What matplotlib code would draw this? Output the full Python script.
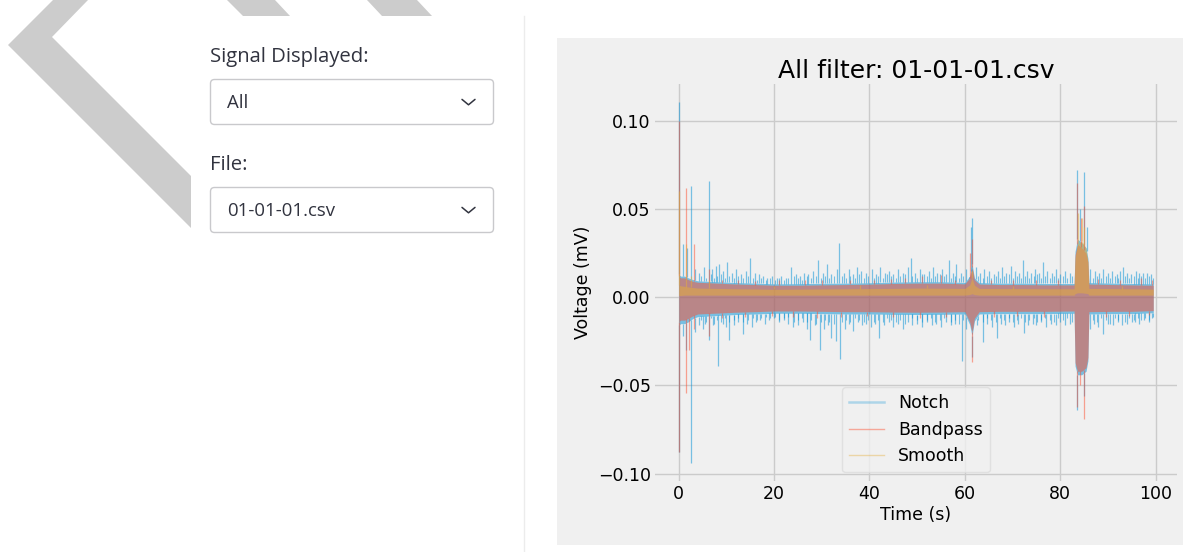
#!/usr/bin/env python3
"""Streamlit-style page: sidebar selects + EMG filter overlay (Notch / Bandpass / Smooth)."""

import matplotlib.pyplot as plt
import numpy as np
from matplotlib.lines import Line2D
from matplotlib.patches import FancyBboxPatch, Polygon, Rectangle

W, H = 1183, 552

SIGNAL_LABEL = "Signal Displayed:"
SIGNAL_VALUE = "All"
FILE_LABEL = "File:"
FILE_VALUE = "01-01-01.csv"

SERIES = ["Notch", "Bandpass", "Smooth"]
COLORS = ["#008fd5", "#fc4f30", "#e5ae38"]  # fivethirtyeight cycle

# envelope of the dense band (s, mV)
ENV_T = [0.0, 0.4, 1.2, 2.0, 3.0, 4.0, 8.0, 12.0, 16.0, 20.0, 25.0, 30.0,
         35.0, 40.0, 45.0, 50.0, 55.0, 60.0, 61.0, 61.5, 62.0, 63.0, 67.0,
         72.0, 77.0, 82.9, 83.1, 83.6, 84.5, 85.4, 85.8, 86.0, 91.0, 95.0, 99.5]

NOTCH_HI = [0.013, 0.012, 0.012, 0.011, 0.010, 0.0093, 0.0088, 0.0083, 0.0080,
            0.0076, 0.0077, 0.0079, 0.0080, 0.0082, 0.0086, 0.0088, 0.0088,
            0.0084, 0.0120, 0.0190, 0.0110, 0.0083, 0.0080, 0.0080, 0.0078,
            0.0078, 0.0260, 0.0330, 0.0310, 0.0280, 0.0220, 0.0083, 0.0080,
            0.0078, 0.0076]
NOTCH_LO = [-0.016, -0.015, -0.015, -0.014, -0.012, -0.011, -0.0104, -0.0098,
            -0.0095, -0.0091, -0.0091, -0.0093, -0.0095, -0.0095, -0.0097,
            -0.0098, -0.0097, -0.0095, -0.0155, -0.0220, -0.0135, -0.0095,
            -0.0093, -0.0093, -0.0093, -0.0091, -0.0390, -0.0440, -0.0440,
            -0.0420, -0.0360, -0.0095, -0.0093, -0.0093, -0.0088]

BANDPASS_HI = [0.012, 0.011, 0.011, 0.010, 0.009, 0.0085, 0.0080, 0.0075,
               0.0072, 0.0068, 0.0068, 0.0070, 0.0072, 0.0074, 0.0078, 0.0080,
               0.0080, 0.0076, 0.0110, 0.0170, 0.0100, 0.0075, 0.0072, 0.0072,
               0.0070, 0.0070, 0.0240, 0.0300, 0.0280, 0.0250, 0.0200, 0.0075,
               0.0072, 0.0070, 0.0068]
BANDPASS_LO = [-0.014, -0.013, -0.013, -0.012, -0.0105, -0.0095, -0.0090,
               -0.0085, -0.0082, -0.0078, -0.0078, -0.0080, -0.0082, -0.0082,
               -0.0084, -0.0085, -0.0084, -0.0082, -0.0140, -0.0200, -0.0120,
               -0.0082, -0.0080, -0.0080, -0.0080, -0.0078, -0.0370, -0.0420,
               -0.0420, -0.0400, -0.0340, -0.0082, -0.0080, -0.0080, -0.0076]

SMOOTH_HI = [0.0070, 0.0065, 0.0062, 0.0058, 0.0055, 0.0052, 0.0050, 0.0048,
             0.0047, 0.0045, 0.0046, 0.0047, 0.0048, 0.0049, 0.0050, 0.0052,
             0.0051, 0.0050, 0.0070, 0.0110, 0.0068, 0.0050, 0.0049, 0.0049,
             0.0048, 0.0048, 0.0220, 0.0300, 0.0320, 0.0280, 0.0200, 0.0050,
             0.0049, 0.0048, 0.0046]
SMOOTH_LO = [0.0010, 0.0010, 0.0012, 0.0012, 0.0012, 0.0012, 0.0012, 0.0012,
             0.0012, 0.0012, 0.0012, 0.0012, 0.0012, 0.0012, 0.0012, 0.0012,
             0.0012, 0.0012, 0.0015, 0.0020, 0.0015, 0.0012, 0.0012, 0.0012,
             0.0012, 0.0012, 0.0020, 0.0025, 0.0025, 0.0022, 0.0020, 0.0012,
             0.0012, 0.0012, 0.0012]

# individual spikes sticking out of the band (s, mV)
NOTCH_SPIKE_T = [
    0.0, 1.0, 1.8, 2.6, 3.5, 4.3, 5.2, 6.4, 7.0, 7.8, 8.5, 9.3, 10.1, 11.2,
    12.0, 13.0, 14.1, 15.0, 15.9, 16.8, 17.7, 18.6, 19.5, 20.6, 21.5, 22.4,
    23.6, 24.5, 25.4, 26.3, 27.2, 28.1, 29.3, 30.2, 31.0, 32.0, 33.2, 33.6,
    34.7, 35.6, 36.5, 37.4, 38.3, 39.2, 40.5, 41.4, 42.3, 43.2, 44.1, 45.0,
    46.0, 47.0, 48.0, 48.6, 49.5, 50.5, 51.5, 52.4, 53.3, 54.2, 55.2, 56.0,
    56.7, 57.5, 58.2, 59.2, 60.3, 61.2, 61.5, 62.3, 63.2, 64.1, 65.0, 66.0,
    66.9, 67.8, 68.7, 69.6, 70.5, 71.3, 72.1, 73.0, 73.9, 74.8, 75.6, 76.4,
    77.3, 78.2, 79.0, 80.0, 81.0, 82.0, 83.6, 84.2, 84.9, 85.5, 86.3, 87.2,
    88.1, 89.0, 90.0, 90.9, 91.8, 92.6, 93.1, 94.0, 94.9, 95.8, 96.6, 97.3,
    98.2, 99.0,
    0.0, 0.8, 1.5, 2.6, 3.4, 4.2, 5.0, 5.6, 6.4, 7.2, 8.3, 9.2, 10.0, 10.6,
    11.5, 12.4, 13.4, 14.3, 15.3, 16.2, 17.1, 18.0, 19.0, 20.0, 21.0, 22.0,
    23.0, 24.0, 25.0, 26.0, 26.8, 27.6, 28.5, 29.7, 30.5, 31.3, 32.0, 33.0,
    33.9, 34.8, 35.7, 36.6, 37.5, 38.4, 39.3, 40.3, 41.2, 42.0, 43.0, 44.0,
    45.0, 46.0, 47.0, 48.0, 49.0, 50.0, 51.0, 52.0, 53.0, 54.0, 55.0, 56.0,
    57.0, 58.0, 59.4, 60.3, 61.5, 62.5, 63.7, 64.6, 65.6, 66.7, 67.5, 68.4,
    69.3, 70.2, 71.2, 72.4, 73.3, 74.2, 75.0, 76.0, 77.0, 78.0, 79.0, 80.0,
    81.0, 82.0, 83.6, 84.9, 86.2, 87.0, 88.0, 89.0, 90.0, 91.0, 92.0, 93.0,
    94.0, 95.0, 95.7, 96.6, 97.5, 98.5, 99.3,
]
NOTCH_SPIKE_V = [
    0.111, 0.030, 0.028, 0.063, 0.016, 0.014, 0.017, 0.066, 0.016, 0.018,
    0.019, 0.015, 0.020, 0.014, 0.016, 0.013, 0.015, 0.022, 0.014, 0.013,
    0.012, 0.011, 0.012, 0.011, 0.012, 0.011, 0.017, 0.013, 0.012, 0.014,
    0.013, 0.015, 0.021, 0.014, 0.019, 0.013, 0.016, 0.031, 0.014, 0.016,
    0.013, 0.017, 0.015, 0.014, 0.016, 0.013, 0.017, 0.014, 0.015, 0.013,
    0.016, 0.014, 0.017, 0.022, 0.014, 0.016, 0.013, 0.015, 0.017, 0.014,
    0.016, 0.013, 0.021, 0.014, 0.019, 0.014, 0.016, 0.040, 0.045, 0.017,
    0.014, 0.016, 0.015, 0.013, 0.015, 0.017, 0.014, 0.0175, 0.015, 0.014,
    0.021, 0.015, 0.014, 0.016, 0.014, 0.020, 0.015, 0.014, 0.016, 0.013,
    0.015, 0.014, 0.072, 0.050, 0.071, 0.040, 0.016, 0.015, 0.014, 0.016,
    0.014, 0.015, 0.013, 0.015, 0.017, 0.014, 0.013, 0.015, 0.014, 0.0135,
    0.014, 0.013,
    -0.088, -0.022, -0.030, -0.094, -0.020, -0.016, -0.018, -0.015, -0.024,
    -0.016, -0.039, -0.015, -0.017, -0.024, -0.016, -0.014, -0.021, -0.015,
    -0.017, -0.014, -0.013, -0.015, -0.013, -0.012, -0.014, -0.013, -0.015,
    -0.017, -0.016, -0.014, -0.018, -0.024, -0.016, -0.030, -0.018, -0.016,
    -0.023, -0.025, -0.035, -0.018, -0.015, -0.019, -0.014, -0.016, -0.015,
    -0.017, -0.015, -0.023, -0.016, -0.014, -0.017, -0.015, -0.018, -0.014,
    -0.016, -0.015, -0.017, -0.014, -0.016, -0.015, -0.017, -0.014, -0.016,
    -0.015, -0.036, -0.018, -0.034, -0.016, -0.0255, -0.015, -0.017, -0.023,
    -0.015, -0.016, -0.014, -0.017, -0.015, -0.0203, -0.016, -0.015, -0.016,
    -0.014, -0.017, -0.015, -0.016, -0.014, -0.016, -0.015, -0.064, -0.056,
    -0.018, -0.015, -0.017, -0.0207, -0.015, -0.016, -0.014, -0.016, -0.015,
    -0.014, -0.014, -0.015, -0.013, -0.014, -0.012,
]

# short grass between the bigger spikes (s, mV up, mV down)
GRASS_T = [
    4.7, 5.7, 6.8, 7.4, 8.1, 8.9, 9.7, 10.6, 11.6, 12.5, 13.5, 14.6, 15.5,
    16.4, 17.2, 18.2, 19.1, 20.1, 21.0, 22.0, 22.9, 24.1, 25.0, 25.9, 26.8,
    27.7, 28.7, 29.8, 30.6, 31.5, 32.5, 34.2, 35.1, 36.0, 37.0, 37.9, 38.8,
    39.7, 40.9, 41.8, 42.8, 43.7, 44.6, 45.5, 46.5, 47.5, 49.0, 50.0, 51.0,
    52.0, 52.9, 53.8, 54.7, 55.6, 57.1, 57.9, 58.7, 59.7, 60.8, 62.7, 63.7,
    64.6, 65.5, 66.5, 67.4, 68.3, 69.2, 70.1, 70.9, 71.7, 72.6, 73.5, 74.4,
    75.2, 76.0, 76.9, 77.8, 78.6, 79.5, 80.5, 81.5, 82.4, 86.8, 87.7, 88.6,
    89.5, 90.5, 91.4, 92.2, 93.6, 94.5, 95.4, 96.2, 97.0, 97.8, 98.6, 99.4,
]
GRASS_UP = [
    0.012, 0.011, 0.013, 0.011, 0.012, 0.013, 0.011, 0.012, 0.011, 0.012,
    0.011, 0.012, 0.011, 0.010, 0.011, 0.010, 0.011, 0.010, 0.011, 0.010,
    0.011, 0.012, 0.011, 0.010, 0.012, 0.011, 0.012, 0.011, 0.012, 0.011,
    0.012, 0.012, 0.011, 0.012, 0.011, 0.013, 0.011, 0.012, 0.011, 0.012,
    0.011, 0.013, 0.012, 0.011, 0.012, 0.013, 0.012, 0.011, 0.013, 0.012,
    0.011, 0.012, 0.013, 0.012, 0.011, 0.012, 0.011, 0.012, 0.011, 0.012,
    0.011, 0.012, 0.011, 0.012, 0.011, 0.012, 0.013, 0.011, 0.012, 0.011,
    0.012, 0.011, 0.012, 0.013, 0.011, 0.012, 0.011, 0.012, 0.011, 0.012,
    0.011, 0.012, 0.011, 0.012, 0.011, 0.012, 0.011, 0.012, 0.011, 0.012,
    0.011, 0.012, 0.011, 0.012, 0.011, 0.012, 0.011,
]
GRASS_DN = [
    -0.013, -0.014, -0.012, -0.015, -0.013, -0.014, -0.012, -0.014, -0.013,
    -0.012, -0.014, -0.013, -0.012, -0.013, -0.012, -0.011, -0.012, -0.011,
    -0.013, -0.012, -0.011, -0.014, -0.013, -0.012, -0.014, -0.013, -0.015,
    -0.014, -0.013, -0.014, -0.015, -0.014, -0.013, -0.014, -0.012, -0.013,
    -0.014, -0.013, -0.014, -0.013, -0.014, -0.012, -0.013, -0.014, -0.013,
    -0.015, -0.012, -0.013, -0.014, -0.013, -0.012, -0.014, -0.013, -0.012,
    -0.014, -0.013, -0.015, -0.013, -0.014, -0.013, -0.014, -0.012, -0.013,
    -0.014, -0.012, -0.013, -0.012, -0.014, -0.013, -0.012, -0.014, -0.013,
    -0.012, -0.014, -0.013, -0.012, -0.013, -0.014, -0.012, -0.013, -0.012,
    -0.014, -0.013, -0.014, -0.012, -0.013, -0.015, -0.012, -0.013, -0.014,
    -0.012, -0.013, -0.012, -0.013, -0.012, -0.013, -0.011,
]

BANDPASS_SPIKE_T = [
    0.0, 1.5, 3.1, 6.4, 9.0, 12.5, 16.0, 21.0, 26.5, 30.0, 36.0, 41.0, 44.5,
    47.5, 51.0, 55.0, 58.0, 61.0, 61.5, 65.5, 70.0, 75.0, 79.5, 83.6, 84.3,
    84.9, 88.0, 92.5, 97.0, 99.3,
    0.0, 1.5, 2.2, 3.3, 6.4, 9.0, 14.0, 19.5, 24.0, 29.0, 34.0, 39.5, 45.0,
    50.5, 56.0, 61.5, 66.0, 71.0, 76.5, 83.6, 84.2, 84.9, 89.5, 94.5, 98.5,
]
BANDPASS_SPIKE_V = [
    0.100, 0.062, 0.030, 0.016, 0.010, 0.0095, 0.009, 0.0095, 0.010, 0.0098,
    0.0095, 0.010, 0.0105, 0.011, 0.012, 0.0125, 0.010, 0.025, 0.033, 0.010,
    0.0095, 0.010, 0.0098, 0.0646, 0.045, 0.052, 0.0105, 0.0095, 0.011, 0.010,
    -0.088, -0.0546, -0.030, -0.018, -0.022, -0.012, -0.011, -0.0105, -0.011,
    -0.012, -0.011, -0.0105, -0.011, -0.0115, -0.011, -0.037, -0.011, -0.0105,
    -0.011, -0.062, -0.050, -0.069, -0.011, -0.0105, -0.010,
]

SMOOTH_SPIKE_T = [0.0, 1.5, 2.6, 6.4, 20.0, 38.0, 52.0, 61.5, 70.0, 83.8, 84.5,
                  85.0, 93.0]
SMOOTH_SPIKE_V = [0.060, 0.030, 0.012, 0.010, 0.0065, 0.0068, 0.0072, 0.015,
                  0.0066, 0.048, 0.045, 0.040, 0.0065]

TEXT = "#31333F"


def draw_series(ax, color, hi, lo, spike_t, spike_v, lw=0.9):
    t_env = np.asarray(ENV_T)
    ax.fill_between(t_env, lo, hi, color=color, alpha=0.5, lw=0)
    t = np.asarray(spike_t)
    v = np.asarray(spike_v)
    # spike starts at the band edge so it does not double the band's alpha
    base = np.where(v > 0, np.interp(t, t_env, hi), np.interp(t, t_env, lo))
    ax.vlines(t, base, v, color=color, lw=lw, alpha=0.5)


def draw_grass(ax, color):
    t_env = np.asarray(ENV_T)
    t = np.asarray(GRASS_T)
    ax.vlines(t, np.interp(t, t_env, NOTCH_HI), GRASS_UP, color=color,
              lw=0.8, alpha=0.5)
    ax.vlines(t, np.interp(t, t_env, NOTCH_LO), GRASS_DN, color=color,
              lw=0.8, alpha=0.5)


def draw_page(fig):
    page = fig.add_axes([0, 0, 1, 1], zorder=0)
    page.set_xlim(0, W)
    page.set_ylim(H, 0)
    page.axis("off")

    grey = "#cccccc"
    page.add_patch(Polygon([(8, 45), (53, 0), (88, 0), (52, 37), (191, 176),
                            (191, 228)], closed=True, color=grey, lw=0))
    page.add_patch(Polygon([(227, 0), (275, 0), (290, 16), (243, 16)],
                           closed=True, color=grey, lw=0))
    page.add_patch(Polygon([(367, 0), (417, 0), (432, 16), (382, 16)],
                           closed=True, color=grey, lw=0))
    page.plot([524.5, 524.5], [16, H], color="#ececec", lw=1)
    page.add_patch(Rectangle((557, 38), W - 557, 507, color="#f0f0f0", lw=0))

    font = ["Open Sans", "DejaVu Sans"]
    for label, value, y0 in ((SIGNAL_LABEL, SIGNAL_VALUE, 79.5),
                             (FILE_LABEL, FILE_VALUE, 187.5)):
        page.text(210, y0 - 17.5, label, family=font, fontsize=14.6,
                  color=TEXT, va="baseline")
        page.add_patch(FancyBboxPatch((210.5, y0), 283, 45,
                                      boxstyle="round,pad=0,rounding_size=4",
                                      fc="white", ec="#c9c9cc", lw=1))
        page.text(227, y0 + 29, value, family=font, fontsize=13.4,
                  color=TEXT, va="baseline")
        yc = y0 + 22.5
        page.plot([462, 468.5, 475], [yc - 2.6, yc + 2.8, yc - 2.6],
                  color=TEXT, lw=1.1, solid_capstyle="round",
                  solid_joinstyle="round")


def main():
    fig = plt.figure(figsize=(W / 100, H / 100), dpi=100, facecolor="white")
    draw_page(fig)

    ax = fig.add_axes([655 / W, 1 - 481 / H, 522 / W, 397.5 / H], zorder=1)
    ax.set_facecolor("#f0f0f0")
    for s in ax.spines.values():
        s.set_visible(False)
    ax.grid(True, color="#cbcbcb", lw=1)
    ax.set_axisbelow(True)
    ax.tick_params(length=0, labelsize=12.5, pad=3)

    draw_series(ax, COLORS[0], NOTCH_HI, NOTCH_LO, NOTCH_SPIKE_T, NOTCH_SPIKE_V)
    draw_grass(ax, COLORS[0])
    draw_series(ax, COLORS[1], BANDPASS_HI, BANDPASS_LO, BANDPASS_SPIKE_T,
                BANDPASS_SPIKE_V)
    draw_series(ax, COLORS[2], SMOOTH_HI, SMOOTH_LO, SMOOTH_SPIKE_T,
                SMOOTH_SPIKE_V)

    ax.set_xticks([0, 20, 40, 60, 80, 100])
    ax.set_yticks([-0.10, -0.05, 0.00, 0.05, 0.10])
    ax.set_title(f"{SIGNAL_VALUE} filter: {FILE_VALUE}", fontsize=18, pad=4)
    ax.set_xlabel("Time (s)", fontsize=12.5, labelpad=2)
    ax.set_ylabel("Voltage (mV)", fontsize=12.5, labelpad=4)

    handles = [
        Line2D([0], [0], color=COLORS[0], alpha=0.28, lw=1.8, label=SERIES[0]),
        Line2D([0], [0], color=COLORS[1], alpha=0.45, lw=1, label=SERIES[1]),
        Line2D([0], [0], color=COLORS[2], alpha=0.4, lw=1, label=SERIES[2]),
    ]
    ax.legend(handles=handles, loc="lower center", fontsize=12.5,
              facecolor="#f0f0f0", edgecolor="#dcdcdc", framealpha=0.8)

    fig.savefig("out.png", dpi=100, facecolor="white")


if __name__ == "__main__":
    main()
